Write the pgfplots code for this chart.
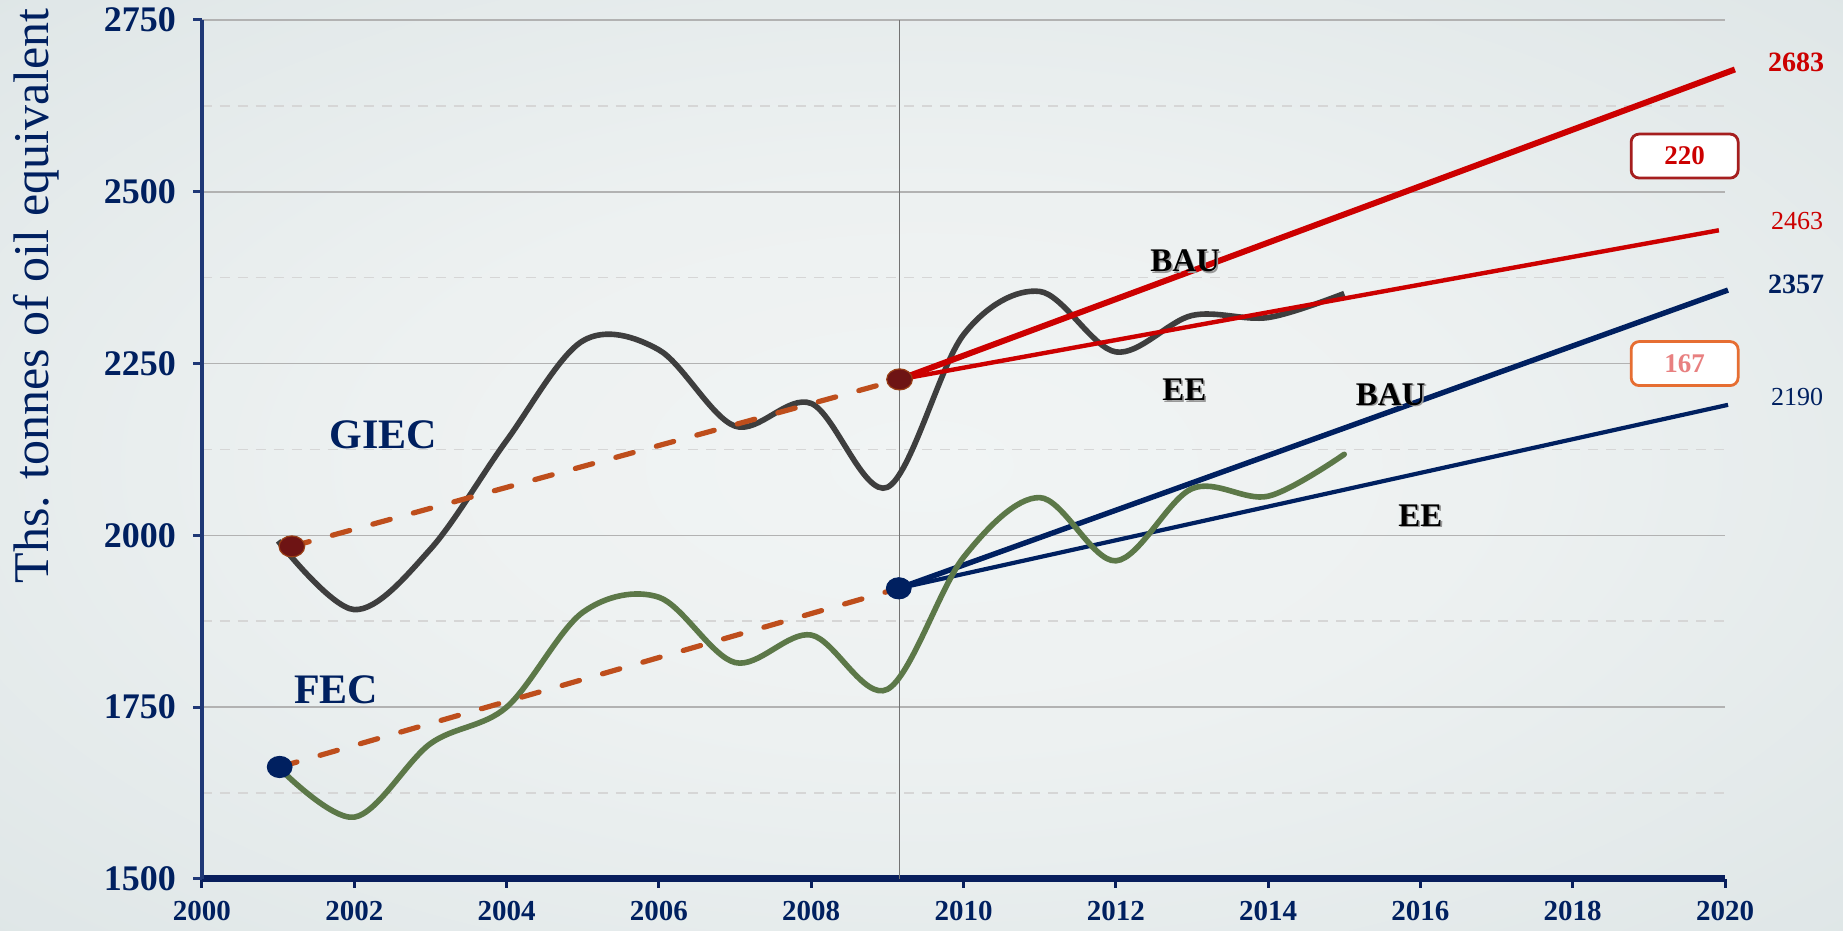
\documentclass[border=0pt]{standalone}
\usepackage{fontspec}
\setmainfont{Liberation Serif}
\usepackage{pgfplots}
\pgfplotsset{compat=1.18}
\definecolor{navy}{RGB}{0,32,96}
\definecolor{ynavy}{RGB}{31,56,118}
\definecolor{xnavy}{RGB}{8,30,92}
\definecolor{giec}{RGB}{62,62,62}
\definecolor{fec}{RGB}{92,120,72}
\definecolor{dashor}{RGB}{190,78,28}
\definecolor{bred}{RGB}{204,0,0}
\definecolor{maroon}{RGB}{110,20,20}
\definecolor{gridmaj}{RGB}{178,178,178}
\definecolor{gridmin}{RGB}{214,214,214}
\definecolor{vline}{RGB}{115,115,115}
\definecolor{bgin}{RGB}{241,244,244}
\definecolor{bga}{RGB}{237,241,241}
\definecolor{bgb}{RGB}{220,228,229}
\definecolor{bgc}{RGB}{196,210,211}
\definecolor{bgout}{RGB}{172,192,194}
\definecolor{boxred}{RGB}{165,30,30}
\definecolor{boxor}{RGB}{230,110,50}
\definecolor{pinktxt}{RGB}{232,128,128}
\pgfdeclareradialshading{bgshade}{\pgfpoint{0bp}{0bp}}{color(0bp)=(bgin); color(15bp)=(bga); color(40bp)=(bgb); color(55bp)=(bgc); color(72bp)=(bgout)}
\begin{document}
\begin{tikzpicture}
\path[use as bounding box] (-101pt,-26pt) rectangle (820.5pt,439.5pt);
\shade[shading=bgshade] (-101pt,-26pt) rectangle (820.5pt,439.5pt);
\begin{axis}[
  at={(0pt,0pt)}, anchor=south west,
  scale only axis, width=761.5pt, height=429.5pt,
  xmin=2000, xmax=2020, ymin=1500, ymax=2750,
  axis x line*=bottom, axis y line*=left,
  x axis line style={-, draw=xnavy, line width=3.5pt},
  y axis line style={-, draw=ynavy, line width=2.4pt},
  xtick={2000,2002,...,2020},
  xticklabels={2000,2002,2004,2006,2008,2010,2012,2014,2016,2018,2020},
  ytick={1500,1750,2000,2250,2500,2750},
  yticklabels={1500,1750,2000,2250,2500,2750},
  minor ytick={1625,1875,2125,2375,2625},
  ymajorgrids, yminorgrids,
  major grid style={draw=gridmaj, line width=0.8pt},
  minor grid style={draw=gridmin, line width=0.8pt, dash pattern=on 5pt off 4pt},
  tick align=outside, major tick length=4.5pt, minor tick length=0pt,
  xtick style={draw=xnavy, line width=1.5pt},
  ytick style={draw=ynavy, line width=1.5pt},
  xticklabel style={font=\bfseries\fontsize{14.5}{16}\selectfont, text=navy, yshift=-3pt},
  yticklabel style={font=\bfseries\fontsize{18}{20}\selectfont, text=navy, xshift=-5pt},
  clip=false,
]
% vertical separator
\addplot[draw=vline, line width=0.9pt] coordinates {(2009.16,1500) (2009.16,2750)};
% navy projections (FEC)
\addplot[draw=navy, line width=2.7pt] coordinates {(2009.15,1923) (2020.04,2357)};
\addplot[draw=navy, line width=2.1pt] coordinates {(2009.15,1923) (2020.04,2190)};
% FEC history
\addplot[draw=fec, line width=2.8pt, smooth, tension=0.55, line cap=round] coordinates {
 (2001,1663) (2002,1590) (2003,1697) (2004,1750) (2005,1888) (2006,1910)
 (2007,1815) (2008,1855) (2009,1776) (2010,1968) (2011,2055) (2012,1963)
 (2013,2068) (2014,2057) (2015,2118)};
% GIEC history
\addplot[draw=giec, line width=2.8pt, smooth, tension=0.55] coordinates {
 (2001,1992) (2002,1892) (2003,1980) (2004,2138) (2005,2283) (2006,2270)
 (2007,2159) (2008,2192) (2009,2070) (2010,2292) (2011,2355) (2012,2267)
 (2013,2320) (2014,2317) (2015,2352)};
% dashed trends
\addplot[draw=dashor, line width=2.6pt, line cap=round, dash pattern=on 9pt off 12pt] coordinates {(2001.18,1984) (2009.16,2227)};
\addplot[draw=dashor, line width=2.6pt, line cap=round, dash pattern=on 9pt off 12pt] coordinates {(2001.02,1663) (2009.15,1923)};
% red projections (GIEC)
\addplot[draw=bred, line width=3pt] coordinates {(2009.16,2227) (2020.13,2678)};
\addplot[draw=bred, line width=2.2pt] coordinates {(2009.16,2227) (2019.92,2444)};
% markers
\addplot[only marks, mark=*, mark size=5.25pt, mark options={fill=maroon, draw=dashor!80!black, line width=0.6pt, xscale=1.22}] coordinates {(2001.18,1984) (2009.16,2227)};
\addplot[only marks, mark=*, mark size=5.25pt, mark options={fill=navy, draw=navy, line width=0.6pt, xscale=1.17}] coordinates {(2001.02,1663) (2009.15,1923)};
% series labels
\node[text=navy, font=\bfseries\fontsize{21}{24}\selectfont] at (axis cs:2002.38,2147) {GIEC};
\node[text=navy, font=\bfseries\fontsize{21}{24}\selectfont] at (axis cs:2001.76,1775) {FEC};
% scenario labels with light shadow
\foreach \xx/\yy/\tt in {2012.91/2399/BAU, 2012.9/2212/EE, 2015.61/2205/BAU, 2016.0/2029/EE}{
  \edef\tmp{\noexpand\node[text=black!40, font=\noexpand\bfseries\noexpand\fontsize{16.5}{18}\noexpand\selectfont, xshift=0.8pt, yshift=-0.8pt] at (axis cs:\xx,\yy) {\tt};
  \noexpand\node[text=black, font=\noexpand\bfseries\noexpand\fontsize{16.5}{18}\noexpand\selectfont] at (axis cs:\xx,\yy) {\tt};}
  \tmp
}
% end values
\node[anchor=west, inner sep=0pt, text=bred, font=\bfseries\fontsize{14}{16}\selectfont] at (axis cs:2020.56,2689) {2683};
\node[anchor=west, inner sep=0pt, text=bred, font=\fontsize{13}{15}\selectfont] at (axis cs:2020.6,2457) {2463};
\node[anchor=west, inner sep=0pt, text=navy, font=\bfseries\fontsize{14}{16}\selectfont] at (axis cs:2020.56,2365) {2357};
\node[anchor=west, inner sep=0pt, text=navy, font=\fontsize{13}{15}\selectfont] at (axis cs:2020.6,2202) {2190};
% difference boxes
\node[draw=boxred, line width=1.4pt, fill=white, rounded corners=4pt, minimum width=53.5pt, minimum height=22pt, inner sep=0pt, text=bred, font=\bfseries\fontsize{13.5}{15}\selectfont] at (axis cs:2019.47,2552) {220};
\node[draw=boxor, line width=1.4pt, fill=white, rounded corners=4pt, minimum width=53.5pt, minimum height=22pt, inner sep=0pt, text=pinktxt, font=\bfseries\fontsize{13.5}{15}\selectfont] at (axis cs:2019.47,2250) {167};
% y axis title
\node[rotate=90, anchor=base, inner sep=0pt, text=navy, font=\fontsize{25}{28}\selectfont] at (axis description cs:-0.1011,0.6787) {Ths. tonnes of oil equivalent};
\end{axis}
\end{tikzpicture}
\end{document}
